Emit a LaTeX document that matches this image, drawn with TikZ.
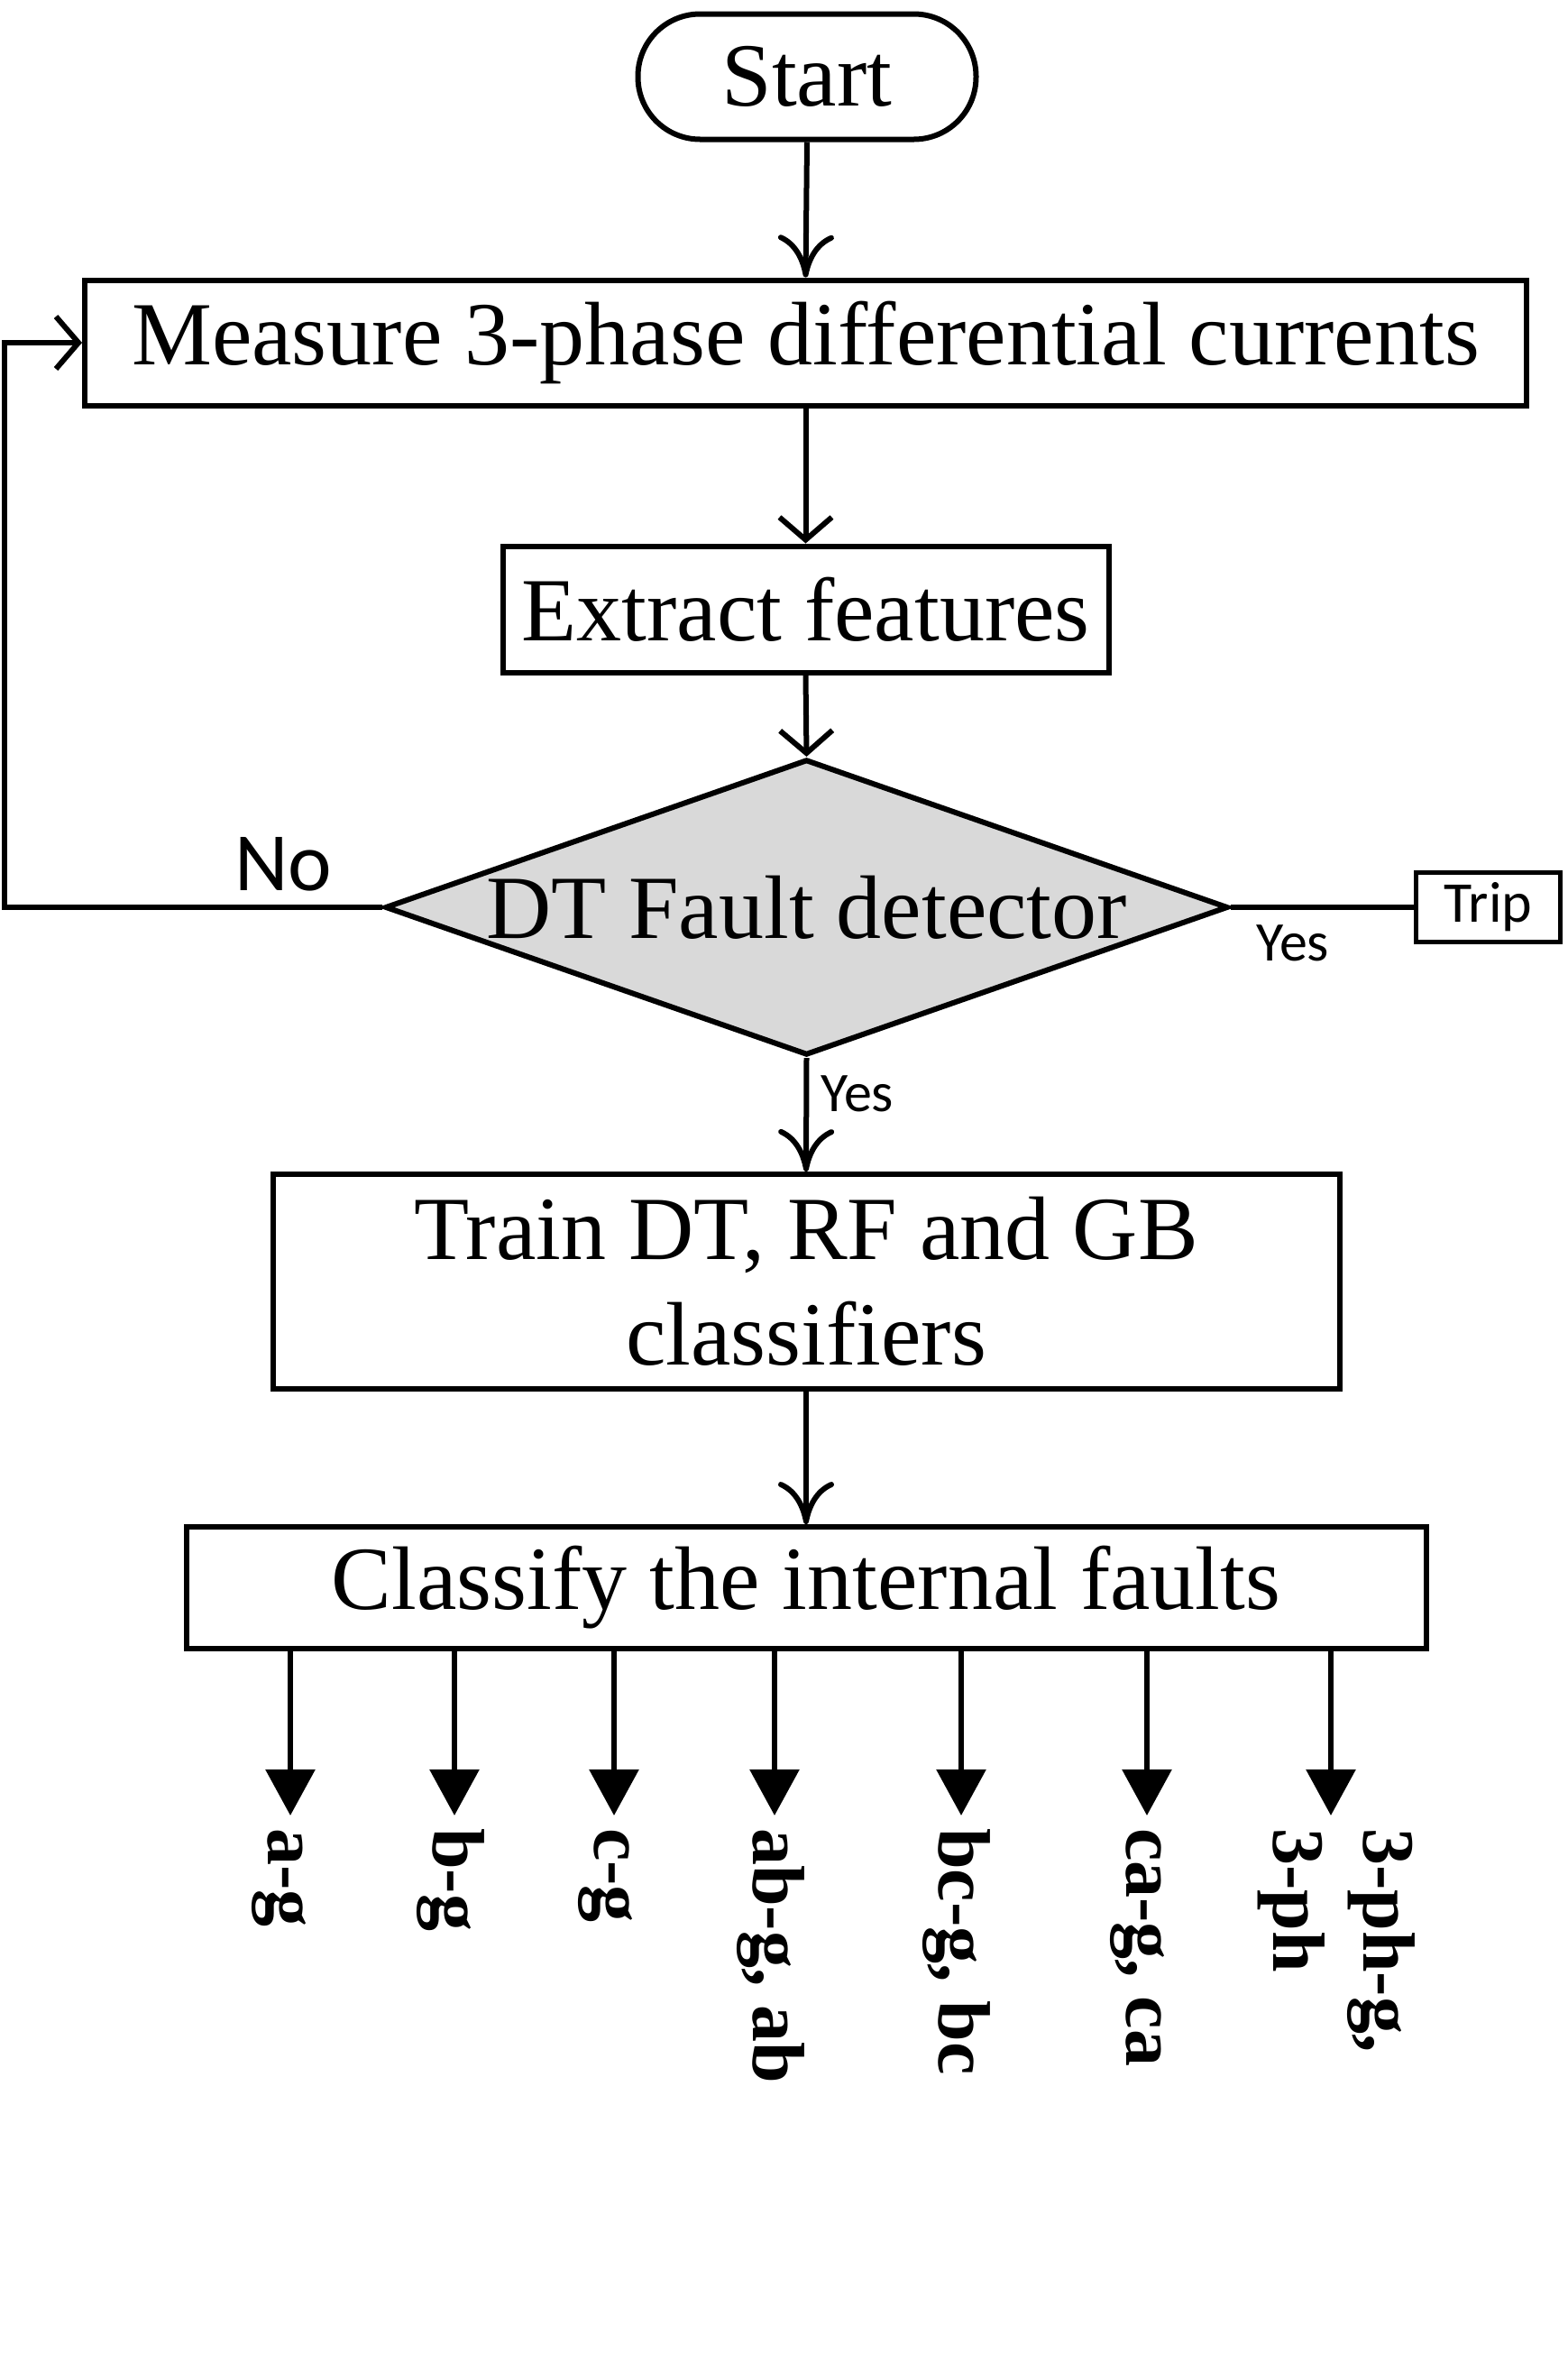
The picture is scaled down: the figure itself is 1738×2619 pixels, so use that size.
\documentclass[tikz,border=0pt]{standalone}
\usepackage{fontspec}
\setmainfont{Liberation Serif}
\newfontfamily\calib{Carlito}
\usetikzlibrary{shapes.geometric,arrows.meta}
\definecolor{decgray}{RGB}{217,217,217}
\begin{document}
\begin{tikzpicture}[x=1pt,y=-1pt,
  box/.style={draw, line width=6pt, inner sep=0pt, align=center,
              font=\fontsize{100}{117}\selectfont},
  ylbl/.style={font=\calib\fontsize{62}{70}\selectfont, inner sep=0pt, anchor=base west},
  outl/.style={font=\bfseries\fontsize{82}{90}\selectfont, inner sep=0pt, rotate=-90, anchor=base west},
  con/.style={line width=6pt, -{Straight Barb[length=25pt,width=58pt,line width=6pt]}},
  cmcon/.style={line width=6pt, -{Computer Modern Rightarrow[length=47pt,width=62pt,line width=6pt]}},
  plain/.style={line width=6pt},
  outarr/.style={line width=6pt, -{Triangle[length=51pt,width=54pt]}}
]
\useasboundingbox (0,0) rectangle (1738,2619);

% nodes
\node[box, rounded corners=69pt, minimum width=375pt, minimum height=139pt] (start) at (895,85) {Start};
\node[box, minimum width=1599pt, minimum height=139pt] (meas) at (893.5,380) {Measure 3-phase differential currents};
\node[box, minimum width=672pt, minimum height=140pt] (extr) at (893.5,675.5) {Extract features};
\node[draw, diamond, fill=decgray, line width=6pt, inner sep=0pt, minimum width=935pt, minimum height=328pt,
      font=\fontsize{100}{117}\selectfont] (dec) at (894.5,1006) {\makebox[0pt]{DT Fault detector}};
\node[draw, line width=5pt, inner sep=0pt, minimum width=160pt, minimum height=77pt,
      font=\calib\fontsize{64}{70}\selectfont] (trip) at (1650.5,1006) {Trip};
\node[box, minimum width=1183pt, minimum height=238pt] (train) at (894,1421) {Train DT, RF and GB\\classifiers};
\node[box, minimum width=1375pt, minimum height=135pt] (cls) at (894,1760.5) {Classify the internal faults};

% labels
\node[ylbl, font=\calib\fontsize{92}{100}\selectfont] (no) at (260,987) {No};
\node[ylbl] (yes1) at (1393,1065) {Yes};
\node[ylbl] (yes2) at (910,1232) {Yes};

% connectors
\draw[cmcon] (start.south) -- (meas.north);
\draw[con] (meas.south) -- (extr.north);
\draw[con] (extr.south) -- (dec.north);
\coordinate (loop) at (5,1006);
\draw[con] (dec.west) -- (loop) |- (meas.west);
\draw[plain] (dec.east) -- (trip.west);
\draw[cmcon] (dec.south) -- (train.north);
\draw[cmcon] (train.south) -- (cls.north);

% outputs
\foreach \i/\x in {1/322,2/504,3/681,4/859,5/1066,6/1272,7/1476}{
  \coordinate (o\i) at (\x,2013);
  \draw[outarr] (o\i |- cls.south) -- (o\i);
}
\node[outl] (l1) at (297,2027) {a-g};
\node[outl] (l2) at (480,2027) {b-g};
\node[outl] (l3) at (659,2027) {c-g};
\node[outl] (l4) at (835,2027) {ab-g, ab};
\node[outl] (l5) at (1041,2027) {bc-g, bc};
\node[outl] (l6) at (1249,2027) {ca-g, ca};
\node[outl] (l7a) at (1512,2027) {3-ph-g,};
\node[outl] (l7b) at (1412,2027) {3-ph};
\end{tikzpicture}
\end{document}
